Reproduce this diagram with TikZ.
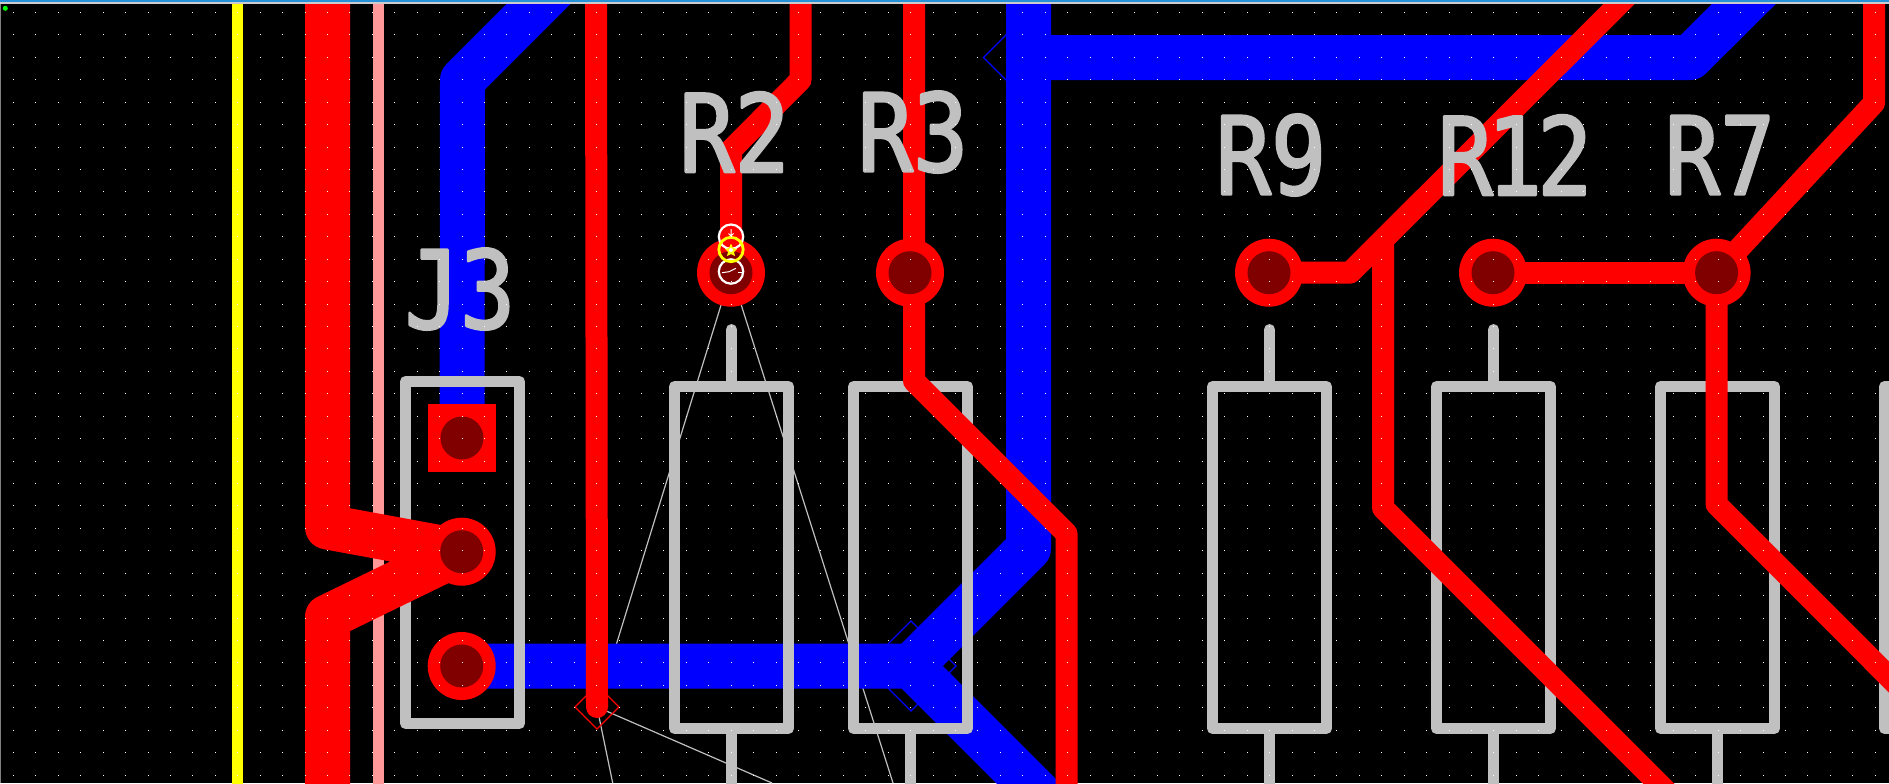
\documentclass[tikz,border=0pt]{standalone}
\usepackage{fontspec}
\newfontfamily\silkfont[FakeStretch=0.85,FakeBold=2.2]{DejaVu Sans Mono}
\definecolor{pcbred}{HTML}{FF0000}
\definecolor{pcbblue}{HTML}{0000FF}
\definecolor{pcbhole}{HTML}{800000}
\definecolor{pcbsilk}{HTML}{C0C0C0}
\definecolor{pcbpink}{HTML}{FF9999}
\definecolor{pcbyellow}{HTML}{FFFF00}
\tikzset{
  x=0.5pt,y=-0.5pt,
  railyellow/.style={draw=pcbyellow,line width=5.5pt},
  railpink/.style={draw=pcbpink,line width=5.5pt},
  fatred/.style={draw=pcbred,line width=22.5pt,line join=round},
  thinred/.style={draw=pcbred,line width=11pt,line join=round},
  fatblue/.style={draw=pcbblue,line width=22.5pt,line join=round},
  silk/.style={draw=pcbsilk,line width=5.5pt,line join=round,line cap=round},
  air/.style={draw=pcbsilk,line width=0.6pt},
  bluemark/.style={draw=pcbblue,line width=0.6pt},
  redmark/.style={draw=pcbred,line width=0.6pt},
  label/.style={text=pcbsilk,inner sep=0pt,font=\silkfont\fontsize{54}{54}\selectfont\special{pdf:code 1 J 1 j}},
  ringwhite/.style={draw=white,line width=1.1pt},
  ringyellow/.style={draw=pcbyellow,line width=1.4pt},
}
\newcommand{\padround}[1]{\fill[pcbred] (#1) circle[radius=17pt]; \fill[pcbhole] (#1) circle[radius=10.75pt];}
\newcommand{\resbody}[1]{%
  \draw[silk] (#1-57,386.5) rectangle (#1+57,728.5);
  \draw[silk] (#1,329.5) -- (#1,386.5);
  \draw[silk] (#1,728.5) -- (#1,800);}
\begin{document}
\begin{tikzpicture}
\useasboundingbox (0,0) rectangle (1889,783);
\clip (0,0) rectangle (1889,783);
\fill[black] (0,0) rectangle (1889,783);
% pad centres
\coordinate (J1) at (462,438);
\coordinate (J2) at (461.7,551.7);
\coordinate (J3) at (461.7,666);
\coordinate (R2) at (731,272.7);
\coordinate (R3) at (910,272.7);
\coordinate (R9) at (1269,272.7);
\coordinate (R12) at (1493,272.7);
\coordinate (R7) at (1716.6,272.7);
\coordinate (viaA) at (597,707);
\coordinate (viaB) at (911,666);
\coordinate (viaC) at (1028.5,57.5);
% rails
\draw[railyellow] (237.5,0) -- (237.5,800);
\draw[railpink] (378.5,0) -- (378.5,800);
% air wires
\draw[air] (R2) -- (viaA);
\draw[air] (R2) -- (893,783);
\draw[air] (viaA) -- (612.7,783);
\draw[air] (viaA) -- (772,783);
% bottom copper
\draw[fatblue] (J1) -- (462.5,80) -- (560,-17.5);
\draw[fatblue] (J3) -- (viaB) -- (1028.5,548.5) -- (viaC |- 0,-20);
\draw[fatblue] (viaB) -- (1060,815);
\draw[fatblue] (viaC) -- (1690,57.5) -- (1770,-22);
\draw[bluemark] (viaB) ++(0,-45) -- ++(45,45) -- ++(-45,45) -- ++(-45,-45) -- cycle;
\draw[bluemark] (viaC) ++(0,-45) -- ++(-45,45) -- ++(45,45);
% silk outlines
\draw[silk] (405.5,381.5) rectangle (519.5,723.5);
\foreach \cx in {731.5,910.5,1269.5,1493.5,1717.5,1941.5}{\resbody{\cx}}
% top copper
\draw[fatred] (327.5,-20) -- (327.5,527) -- (J2) -- (327.5,617) -- (327.5,800);
\draw[thinred,line cap=round] (596,-20) -- (viaA);
\draw[thinred] (R2) -- (731,150) -- (800.5,80) -- (800.5,-20);
\draw[thinred] (914,-20) -- (914,381) -- (1066.5,533.5) -- (1066.5,800);
\draw[thinred] (R9) -- (1350,272.7) -- (1640,-17);
\draw[thinred] (1383,239) -- (1383,508) -- (1700,825);
\draw[thinred] (R12) -- (R7);
\draw[thinred] (1874,-20) -- (1874,103) -- (R7);
\draw[thinred] (R7) -- (1716.6,504.5) -- (2000,788);
\draw[redmark] (viaA) ++(0,-22) -- ++(22,22) -- ++(-22,22) -- ++(-22,-22) -- cycle;
% pads
\fill[pcbred] (428,404) rectangle (496,472);
\fill[pcbhole] (J1) circle[radius=10.75pt];
\padround{J2}
\padround{J3}
\padround{R2}
\padround{R3}
\padround{R9}
\padround{R12}
\padround{R7}
% reference designators
\node[label] (tJ3) at (460,289) {J3};
\node[label] (tR2) at (734.5,132) {R2};
\node[label] (tR3) at (913,132) {R3};
\node[label] (tR9) at (1271,155) {R9};
\node[label] (tR12) at (1515,155) {R\kern-3pt 1\kern-2.5pt 2};
\node[label] (tR7) at (1720,155) {R7};
% highlighted markers on R2
\draw[ringwhite] (731,236.7) circle[radius=6.1pt];
\draw[ringwhite] (731,271.5) circle[radius=6.1pt];
\draw[ringyellow] (731,249.5) circle[radius=6.1pt];
\fill[pcbyellow] (731,243.5) -- (733,248) -- (737,249) -- (734,252) -- (735,256) -- (731,254) -- (727,256) -- (728,252) -- (725,249) -- (729,248) -- cycle;
\fill[white] (731,250) circle[radius=1pt];
\draw[white,line width=0.5pt] (731,229) -- (731,236) (728.5,233.5) -- (731,236) -- (733.5,233.5);
\draw[white,line width=0.5pt] (722,272.7) -- (729,271.7) -- (736,268.3);
\draw[white,line width=0.5pt] (738,272) -- (743,272);
% grid
\foreach \i in {0,...,83}{
  \foreach \j in {0,...,34}{
    \fill[white] ({round(13+22.43*\i)},{round(12+22.43*\j)}) rectangle ++(1,1);
  }
}
% window frame
\fill[black!50] (0,0) rectangle (1,783);
\fill[white!60!gray] (0,2) rectangle (1889,4);
\fill[blue!40!cyan!70!gray] (0,0) rectangle (1889,2);
\fill[green] (5.3,8.3) circle[radius=1.25pt];
\end{tikzpicture}
\end{document}
